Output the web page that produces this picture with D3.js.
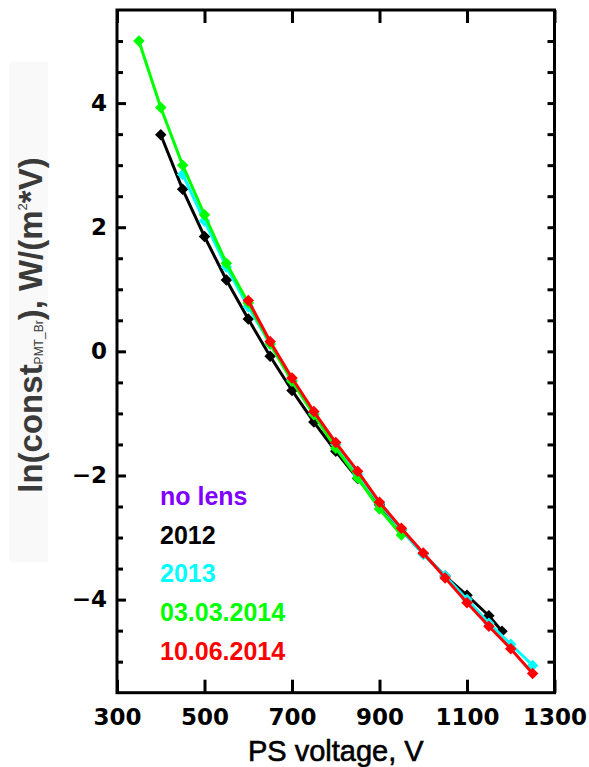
<!DOCTYPE html>
<html>
<head>
<meta charset="utf-8">
<script src="https://cdn.jsdelivr.net/npm/d3@7"></script>
<style>
  html, body { margin: 0; padding: 0; background: #fff; }
  svg { display: block; }
</style>
</head>
<body>
<svg id="chart" width="589" height="767"></svg>
<script>
// PMT calibration constant vs. power-supply voltage, one series per calibration run
const voltage2012 = [400, 450, 500, 550, 600, 650, 700, 750, 800, 850, 900, 950, 1000, 1050, 1100, 1150, 1180];
const lnConst2012 = [3.49, 2.61, 1.85, 1.15, 0.52, -0.08, -0.63, -1.14, -1.61, -2.05, -2.47, -2.88, -3.26, -3.62, -3.93, -4.26, -4.51];

const voltage2013 = [450, 500, 550, 600, 650, 700, 750, 800, 850, 900, 950, 1000, 1050, 1100, 1150, 1200, 1250];
const lnConst2013 = [2.85, 2.1, 1.36, 0.72, 0.12, -0.47, -1.0, -1.5, -1.98, -2.45, -2.88, -3.27, -3.62, -4.0, -4.38, -4.72, -5.06];

const voltageMar2014 = [350, 400, 450, 500, 550, 600, 650, 700, 750, 800, 850, 900, 950];
const lnConstMar2014 = [5.0, 3.93, 3.0, 2.2, 1.42, 0.78, 0.12, -0.48, -1.02, -1.56, -2.04, -2.54, -2.96];

const voltageJun2014 = [600, 650, 700, 750, 800, 850, 900, 950, 1000, 1050, 1100, 1150, 1200, 1250];
const lnConstJun2014 = [0.82, 0.16, -0.43, -0.97, -1.47, -1.93, -2.43, -2.85, -3.25, -3.65, -4.05, -4.43, -4.79, -5.19];

const legendLabels = ["no lens", "2012", "2013", "03.03.2014", "10.06.2014"];
const legendColors = ["#8000ff", "#000000", "#00ffff", "#00ff00", "#ff0000"];

const xTickValues = [300, 500, 700, 900, 1100, 1300];
const yTickValues = [-4, -2, 0, 2, 4];
const yMinorValues = [-5, -4.5, -3.5, -3, -2.5, -1.5, -1, -0.5, 0.5, 1, 1.5, 2.5, 3, 3.5, 4.5, 5];

const series = [
  { v: voltage2012, y: lnConst2012, color: "#000000" },
  { v: voltage2013, y: lnConst2013, color: "#00ffff" },
  { v: voltageMar2014, y: lnConstMar2014, color: "#00ff00" },
  { v: voltageJun2014, y: lnConstJun2014, color: "#ff0000" }
];

const svg = d3.select("#chart");
const plotLeft = 117, plotRight = 554.5, plotTop = 10, plotBottom = 692.7;

const x = d3.scaleLinear().domain([300, 1300]).range([plotLeft, plotRight]);
const y = d3.scaleLinear().domain([-5.5, 5.5]).range([plotBottom, plotTop]);

// faint panel behind the y title
svg.append("rect")
  .attr("x", 9).attr("y", 62).attr("width", 39).attr("height", 500)
  .attr("fill", "#f9f9f9");

// data lines and diamond markers
const line = d3.line().x(d => x(d[0])).y(d => y(d[1]));
const diamond = d3.symbol().type(d3.symbolSquare).size(66);

series.forEach(s => {
  const pts = s.v.map((v, i) => [v, s.y[i]]);
  const g = svg.append("g");
  g.append("path")
    .attr("d", line(pts))
    .attr("fill", "none")
    .attr("stroke", s.color)
    .attr("stroke-width", 3)
    .attr("stroke-linejoin", "round");
  g.selectAll("path.mk").data(pts).enter().append("path")
    .attr("class", "mk")
    .attr("d", diamond)
    .attr("transform", d => `translate(${x(d[0])},${y(d[1])}) rotate(45)`)
    .attr("fill", s.color);
});

// axes (ticks point inward)
const tickFont = "'DejaVu Sans', sans-serif";
function styleAxis(g) {
  g.select(".domain").remove();
  g.selectAll(".tick line").attr("stroke", "#000").attr("stroke-width", 3);
  g.selectAll(".tick text")
    .attr("fill", "#000")
    .style("font-family", tickFont)
    .style("font-weight", "bold")
    .style("font-size", "23px");
}

svg.append("g")
  .attr("transform", `translate(0,${plotBottom})`)
  .call(d3.axisBottom(x).tickValues(xTickValues).tickSizeInner(-13).tickSizeOuter(0).tickPadding(16).tickFormat(d3.format("d")))
  .call(styleAxis);

svg.append("g")
  .attr("transform", `translate(0,${plotTop})`)
  .call(d3.axisTop(x).tickValues(xTickValues).tickSizeInner(-13).tickSizeOuter(0).tickFormat(""))
  .call(styleAxis);

svg.append("g")
  .attr("transform", `translate(${plotLeft},0)`)
  .call(d3.axisLeft(y).tickValues(yTickValues).tickSizeInner(-9).tickSizeOuter(0).tickPadding(10).tickFormat(d3.format("d")))
  .call(styleAxis);

svg.append("g")
  .attr("transform", `translate(${plotLeft},0)`)
  .call(d3.axisLeft(y).tickValues(yMinorValues).tickSizeInner(-6).tickSizeOuter(0).tickFormat(""))
  .call(styleAxis);

svg.append("g")
  .attr("transform", `translate(${plotRight},0)`)
  .call(d3.axisRight(y).tickValues(yTickValues.concat(yMinorValues)).tickSizeInner(-7).tickSizeOuter(0).tickFormat(""))
  .call(styleAxis);

// plot frame
svg.append("rect")
  .attr("x", plotLeft).attr("y", plotTop)
  .attr("width", plotRight - plotLeft).attr("height", plotBottom - plotTop)
  .attr("fill", "none").attr("stroke", "#000").attr("stroke-width", 3);

// axis titles
svg.append("text")
  .attr("x", (plotLeft + plotRight) / 2).attr("y", 761)
  .attr("text-anchor", "middle")
  .style("font-family", "'Liberation Sans', Arial, sans-serif")
  .style("font-size", "29px")
  .style("stroke", "#000").style("stroke-width", 0.6)
  .attr("fill", "#000")
  .text("PS voltage, V");

const yTitle = svg.append("text")
  .attr("transform", "translate(42,325) rotate(-90)")
  .attr("text-anchor", "middle")
  .style("font-family", "'Liberation Sans', Arial, sans-serif")
  .style("font-weight", "bold")
  .style("font-size", "33px")
  .attr("fill", "#3a3a3a");
yTitle.append("tspan").text("ln(const");
yTitle.append("tspan").attr("dy", 1).style("font-size", "12px").style("font-weight", "normal").text("PMT_Br");
yTitle.append("tspan").attr("dy", -1).text("), W/(m");
yTitle.append("tspan").attr("dy", -15).style("font-size", "13px").style("font-weight", "normal").text("2");
yTitle.append("tspan").attr("dy", 15).text("*V)");

// legend
svg.append("g").selectAll("text").data(legendLabels).enter().append("text")
  .attr("x", 160)
  .attr("y", (d, i) => 505 + i * 38.7)
  .style("font-family", "'Liberation Sans', Arial, sans-serif")
  .style("font-weight", "bold")
  .style("font-size", "25px")
  .attr("fill", (d, i) => legendColors[i])
  .text(d => d);
</script>
</body>
</html>
